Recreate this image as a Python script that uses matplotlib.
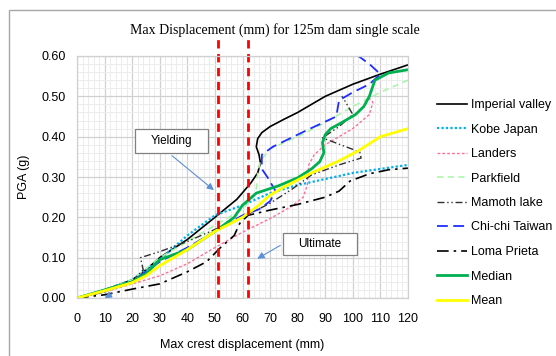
import matplotlib
matplotlib.use("Agg")
import matplotlib.pyplot as plt
from matplotlib.patches import Rectangle
from matplotlib.ticker import MultipleLocator

plt.rcParams['font.family'] = ['Liberation Sans', 'DejaVu Sans']

# ---- data (displacement mm, PGA g) ----
imperial_x = [0, 10, 20, 25, 30, 40, 50, 58, 63, 65.5, 66.5, 66, 65, 65.5, 67, 70, 75, 80, 90, 100, 110, 120]
imperial_y = [0, 0.02, 0.045, 0.07, 0.10, 0.145, 0.20, 0.245, 0.285, 0.31, 0.335, 0.355, 0.375, 0.395, 0.41, 0.425, 0.443, 0.46, 0.50, 0.53, 0.555, 0.578]

kobe_x = [0, 10, 20, 30, 40, 50, 60, 70, 80, 90, 100, 110, 120]
kobe_y = [0, 0.02, 0.045, 0.095, 0.155, 0.205, 0.23, 0.26, 0.28, 0.295, 0.31, 0.32, 0.33]

landers_x = [0, 10, 20, 30, 40, 50, 60, 70, 78, 82, 83.5, 84, 86, 90, 100, 106, 107.3, 106]
landers_y = [0, 0.015, 0.035, 0.055, 0.085, 0.125, 0.163, 0.197, 0.228, 0.25, 0.28, 0.33, 0.355, 0.38, 0.42, 0.455, 0.485, 0.495]

parkfield_x = [0, 10, 20, 30, 40, 50, 60, 64, 65, 65.5, 66.5, 70, 80, 90, 100, 110, 120]
parkfield_y = [0, 0.02, 0.045, 0.10, 0.14, 0.18, 0.22, 0.25, 0.27, 0.31, 0.34, 0.37, 0.40, 0.435, 0.475, 0.51, 0.54]

mamoth_x = [0, 10, 20, 24, 23, 30, 40, 50, 60, 70, 78, 85, 95, 103, 102.5, 89, 95, 100, 97, 96]
mamoth_y = [0, 0.015, 0.04, 0.07, 0.10, 0.115, 0.14, 0.17, 0.20, 0.235, 0.27, 0.305, 0.33, 0.347, 0.362, 0.397, 0.425, 0.455, 0.49, 0.50]

chichi_x = [0, 10, 20, 30, 40, 50, 60, 66, 70, 72, 69, 67, 67, 71, 83, 94, 95, 100, 106, 110, 106, 102]
chichi_y = [0, 0.02, 0.04, 0.09, 0.125, 0.165, 0.205, 0.22, 0.24, 0.265, 0.30, 0.32, 0.355, 0.375, 0.415, 0.45, 0.49, 0.51, 0.53, 0.555, 0.58, 0.60]

loma_x = [0, 10, 20, 30, 40, 47, 52, 57, 59, 62, 70, 80, 90, 95, 99, 106, 113, 120]
loma_y = [0, 0.008, 0.022, 0.035, 0.065, 0.09, 0.125, 0.155, 0.185, 0.205, 0.218, 0.232, 0.25, 0.265, 0.29, 0.308, 0.318, 0.322]

median_x = [0, 10, 20, 25, 30, 40, 50, 57, 60, 65, 73, 80, 85, 88, 89.5, 89, 90, 92, 96, 101, 104, 106, 108, 113, 120]
median_y = [0, 0.02, 0.04, 0.06, 0.095, 0.12, 0.165, 0.20, 0.23, 0.26, 0.278, 0.298, 0.32, 0.338, 0.36, 0.385, 0.405, 0.42, 0.435, 0.455, 0.475, 0.50, 0.54, 0.558, 0.566]

mean_x = [0, 10, 20, 25, 30, 40, 50, 60, 65, 70, 75, 85, 95, 102, 110, 120]
mean_y = [0, 0.018, 0.038, 0.055, 0.08, 0.12, 0.165, 0.20, 0.225, 0.255, 0.275, 0.31, 0.34, 0.365, 0.40, 0.42]

yield_x = 51
ultimate_x = 62
x_ticks = list(range(0, 121, 10))
y_ticks = [0.0, 0.1, 0.2, 0.3, 0.4, 0.5, 0.6]

fig = plt.figure(figsize=(5.56, 3.56), dpi=100)
ax = fig.add_axes([77/556, 1-298/356, (408-77)/556, (298-56)/356])

ax.set_xlim(0, 120)
ax.set_ylim(0, 0.6)
ax.xaxis.set_minor_locator(MultipleLocator(2))
ax.yaxis.set_minor_locator(MultipleLocator(0.02))
ax.set_xticks(x_ticks)
ax.set_yticks(y_ticks)
ax.set_yticklabels([f"{v:.2f}" for v in y_ticks])
ax.grid(which='major', color='#d0d0d0', lw=0.9)
ax.grid(which='minor', color='#ececec', lw=0.7)
ax.set_axisbelow(True)
ax.tick_params(which='both', length=0, labelsize=9)
ax.tick_params(axis='x', pad=11)
ax.tick_params(axis='y', pad=8)
for s in ax.spines.values():
    s.set_color('#d0d0d0')
    s.set_linewidth(0.9)

ax.plot(imperial_x, imperial_y, color='black', lw=1.2, label='Imperial valley')
ax.plot(kobe_x, kobe_y, color='#00b0f0', lw=1.6, ls=(0, (1, 1)), label='Kobe Japan')
ax.plot(landers_x, landers_y, color='#ff6f9c', lw=1.0, ls=(0, (2, 1.5)), label='Landers')
ax.plot(parkfield_x, parkfield_y, color='#a6f5a6', lw=1.1, ls=(0, (4, 3)), label='Parkfield')
ax.plot(mamoth_x, mamoth_y, color='#303030', lw=1.0, ls=(0, (5, 2, 1, 2, 1, 2)), label='Mamoth lake')
ax.plot(chichi_x, chichi_y, color='#1f2dff', lw=1.3, ls=(0, (6, 3)), label='Chi-chi Taiwan')
ax.plot(loma_x, loma_y, color='black', lw=1.2, ls=(0, (7, 3, 1.5, 3)), label='Loma Prieta')
ax.plot(median_x, median_y, color='#00b050', lw=2.0, label='Median')
ax.plot(mean_x, mean_y, color='#ffff00', lw=2.0, label='Mean')

for xv in (yield_x, ultimate_x):
    ax.plot([xv, xv], [0, 0.652], color='#ff0000', lw=2.0, ls=(0, (3, 2)), clip_on=False)

# annotation boxes
ax.add_patch(Rectangle((21, 0.36), 26.5, 0.059, fc='white', ec='#808080', lw=0.9, zorder=5))
ax.text(34.2, 0.3895, 'Yielding', ha='center', va='center', fontsize=8.5, zorder=6)
ax.annotate('', xy=(50.4, 0.263), xytext=(33.7, 0.357),
            arrowprops=dict(arrowstyle='-|>', color='#5b8fd6', lw=0.8, mutation_scale=10), zorder=6)
ax.add_patch(Rectangle((74.6, 0.107), 26.8, 0.054, fc='white', ec='#808080', lw=0.9, zorder=5))
ax.text(88, 0.134, 'Ultimate', ha='center', va='center', fontsize=8.5, zorder=6)
ax.annotate('', xy=(64.5, 0.094), xytext=(74.6, 0.134),
            arrowprops=dict(arrowstyle='-|>', color='#5b8fd6', lw=0.8, mutation_scale=10), zorder=6)
ax.annotate('', xy=(9.2, -0.004), xytext=(13.5, 0.014),
            arrowprops=dict(arrowstyle='-|>', color='#5b8fd6', lw=0.8, mutation_scale=10),
            zorder=6, annotation_clip=False)

ax.set_xlabel('Max crest displacement (mm)', fontsize=9, labelpad=10)
ax.set_ylabel('PGA (g)', fontsize=9, labelpad=8)

fig.text(275/556, 1-30/356, 'Max Displacement (mm) for 125m dam single scale',
         ha='center', va='center', fontsize=10, family=['Liberation Serif', 'DejaVu Serif'])

fig.legend(loc='upper left', bbox_to_anchor=(432/556, 1-94/356), frameon=False,
           fontsize=9, handlelength=2.4, handletextpad=0.3, labelspacing=1.0,
           borderaxespad=0)

fig.patches.append(Rectangle((9/556, -0.1), 1.1, 0.1 + 1-10/356, transform=fig.transFigure,
                             fill=False, ec='#a6a6a6', lw=1.0))

fig.savefig('out.png', dpi=100)
